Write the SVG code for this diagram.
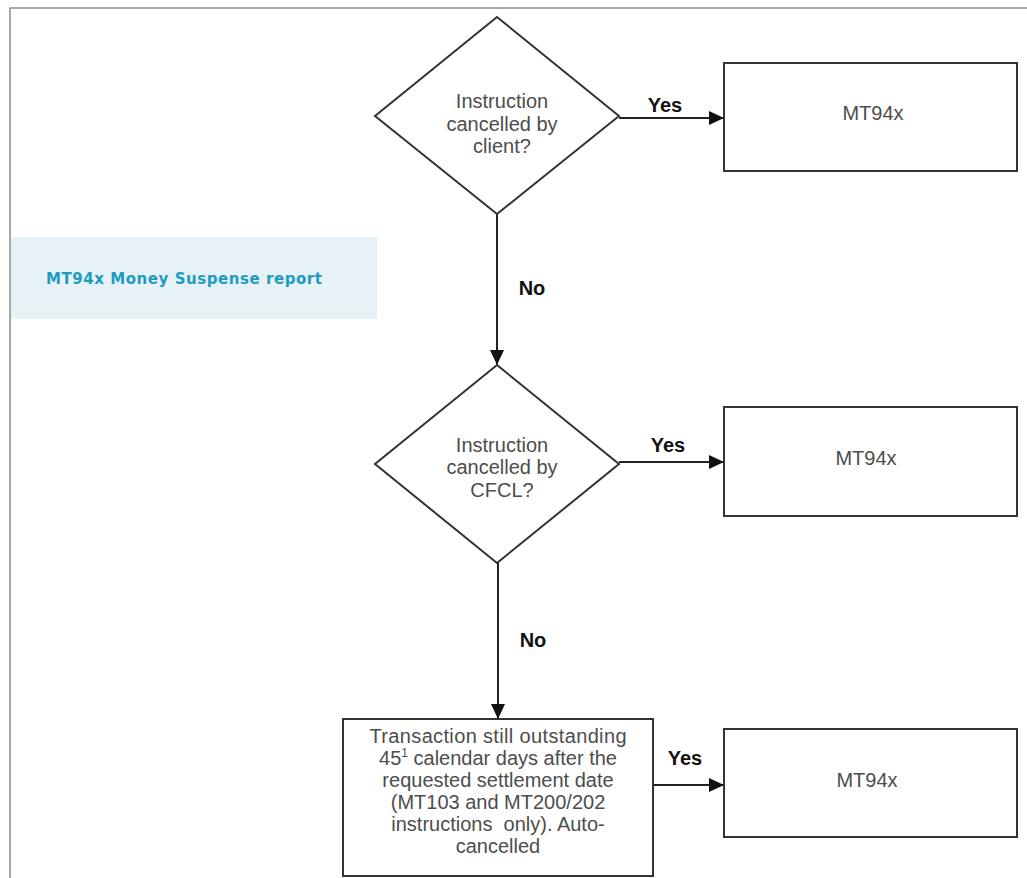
<svg xmlns="http://www.w3.org/2000/svg" width="1027" height="878" viewBox="0 0 1027 878">
<style>
.shape{fill:#fff;stroke:#333;stroke-width:2}
.t{font-family:"Liberation Sans",Arial,sans-serif;font-size:20px;fill:#4d4d4d;text-anchor:middle}
.lbl{font-family:"Liberation Sans",Arial,sans-serif;font-size:20px;font-weight:bold;fill:#111;text-anchor:middle}
.conn{stroke:#222;stroke-width:2;fill:none;marker-end:url(#ah)}
</style>
<defs>
<marker id="ah" markerUnits="userSpaceOnUse" markerWidth="16" markerHeight="14" refX="15" refY="7" orient="auto">
<path d="M0,0 L15,7 L0,14 Z" fill="#111"/>
</marker>
</defs>
<rect width="1027" height="878" fill="#fff"/>
<path d="M10,878 V8 H1027" fill="none" stroke="#8a8a8a" stroke-width="1.5"/>
<g id="legend">
<rect x="11" y="237" width="366" height="82" fill="#e6f2f5"/>
<text x="184" y="284" font-family="DejaVu Sans,Verdana,sans-serif" font-size="15" font-weight="bold" fill="#1f9bc2" text-anchor="middle" textLength="276">MT94x Money Suspense report</text>
</g>
<g id="connectors">
<line class="conn" x1="619" y1="118" x2="724" y2="118"/>
<line class="conn" x1="497" y1="214" x2="497" y2="365"/>
<line class="conn" x1="619" y1="462" x2="724" y2="462"/>
<line class="conn" x1="498" y1="563" x2="498" y2="719"/>
<line class="conn" x1="653" y1="785" x2="724" y2="785"/>
<text class="lbl" x="665" y="112">Yes</text>
<text class="lbl" x="532" y="295">No</text>
<text class="lbl" x="668" y="452">Yes</text>
<text class="lbl" x="533" y="647">No</text>
<text class="lbl" x="685" y="765">Yes</text>
</g>
<g id="q1">
<polygon class="shape" points="497,17 619,116 497,214 375,116"/>
<text class="t" x="502" y="108">Instruction</text>
<text class="t" x="502" y="131">cancelled by</text>
<text class="t" x="502" y="153">client?</text>
</g>
<g id="r1">
<rect class="shape" x="724" y="63" width="293" height="108"/>
<text class="t" x="873" y="120" font-size="19">MT94x</text>
</g>
<g id="q2">
<polygon class="shape" points="497,365 619,464 497,563 375,464"/>
<text class="t" x="502" y="452">Instruction</text>
<text class="t" x="502" y="474">cancelled by</text>
<text class="t" x="502" y="497">CFCL?</text>
</g>
<g id="r2">
<rect class="shape" x="724" y="407" width="293" height="109"/>
<text class="t" x="866" y="465" font-size="19">MT94x</text>
</g>
<g id="q3">
<rect class="shape" x="343" y="719" width="310" height="157"/>
<text class="t" x="498" y="743" textLength="257">Transaction still outstanding</text>
<text class="t" x="498" y="765">45<tspan font-size="12" dy="-8">1</tspan><tspan dy="8"> calendar days after the</tspan></text>
<text class="t" x="498" y="787">requested settlement date</text>
<text class="t" x="498" y="809">(MT103 and MT200/202</text>
<text class="t" x="498" y="831" xml:space="preserve">instructions  only). Auto-</text>
<text class="t" x="498" y="853">cancelled</text>
</g>
<g id="r3">
<rect class="shape" x="724" y="729" width="293" height="108"/>
<text class="t" x="867" y="787" font-size="19">MT94x</text>
</g>
</svg>
